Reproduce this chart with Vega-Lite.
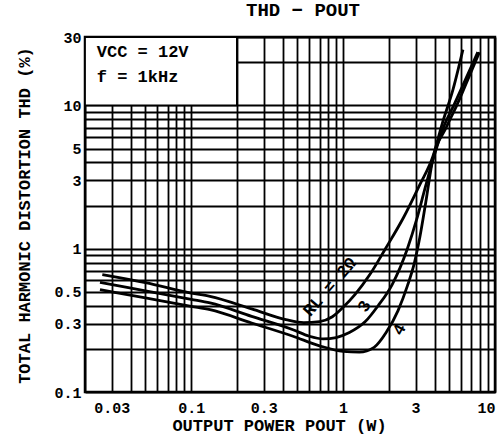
{
  "$schema": "https://vega.github.io/schema/vega-lite/v6.json",
  "width": 410,
  "height": 355,
  "autosize": "none",
  "padding": {"left": 85, "top": 37, "right": 7, "bottom": 48},
  "background": "white",
  "config": {
    "font": "Liberation Mono",
    "view": {"stroke": "black", "strokeWidth": 2.5},
    "axis": {
      "grid": true,
      "gridColor": "black",
      "gridOpacity": 1,
      "gridWidth": 1.8,
      "domain": false,
      "ticks": false,
      "labelFont": "Liberation Mono",
      "labelFontWeight": "bold",
      "labelFontSize": 15,
      "labelColor": "black",
      "labelOverlap": false,
      "titleFont": "Liberation Mono",
      "titleFontWeight": "bold",
      "titleFontSize": 17,
      "titleColor": "black"
    }
  },
  "title": {
    "text": "THD − POUT",
    "font": "Liberation Mono",
    "fontSize": 19,
    "fontWeight": "bold",
    "color": "black",
    "anchor": "middle",
    "dx": 13,
    "offset": 10
  },
  "datasets": {
    "curves": [
      {"curve": "2", "x": 0.026, "y": 0.66},
      {"curve": "2", "x": 0.05, "y": 0.58},
      {"curve": "2", "x": 0.1, "y": 0.49},
      {"curve": "2", "x": 0.133, "y": 0.465},
      {"curve": "2", "x": 0.25, "y": 0.38},
      {"curve": "2", "x": 0.42, "y": 0.32},
      {"curve": "2", "x": 0.55, "y": 0.305},
      {"curve": "2", "x": 0.7, "y": 0.31},
      {"curve": "2", "x": 0.85, "y": 0.335},
      {"curve": "2", "x": 1.0, "y": 0.39},
      {"curve": "2", "x": 1.2, "y": 0.48},
      {"curve": "2", "x": 1.5, "y": 0.66},
      {"curve": "2", "x": 1.9, "y": 1.0},
      {"curve": "2", "x": 2.5, "y": 1.65},
      {"curve": "2", "x": 3.2, "y": 2.8},
      {"curve": "2", "x": 3.9, "y": 4.4},
      {"curve": "2", "x": 4.5, "y": 7.5},
      {"curve": "2", "x": 5.3, "y": 13},
      {"curve": "2", "x": 6.15, "y": 24.5},
      {"curve": "3", "x": 0.0251, "y": 0.582},
      {"curve": "3", "x": 0.05, "y": 0.508},
      {"curve": "3", "x": 0.1, "y": 0.443},
      {"curve": "3", "x": 0.133, "y": 0.418},
      {"curve": "3", "x": 0.25, "y": 0.337},
      {"curve": "3", "x": 0.468, "y": 0.272},
      {"curve": "3", "x": 0.6, "y": 0.245},
      {"curve": "3", "x": 0.74, "y": 0.235},
      {"curve": "3", "x": 0.9, "y": 0.24},
      {"curve": "3", "x": 1.1, "y": 0.26},
      {"curve": "3", "x": 1.4, "y": 0.31},
      {"curve": "3", "x": 1.7, "y": 0.4},
      {"curve": "3", "x": 2.1, "y": 0.56},
      {"curve": "3", "x": 2.65, "y": 1.0},
      {"curve": "3", "x": 3.05, "y": 1.6},
      {"curve": "3", "x": 3.45, "y": 2.6},
      {"curve": "3", "x": 3.86, "y": 4.0},
      {"curve": "3", "x": 4.6, "y": 7.1},
      {"curve": "3", "x": 5.4, "y": 10.2},
      {"curve": "3", "x": 6.4, "y": 15.2},
      {"curve": "3", "x": 7.7, "y": 23.5},
      {"curve": "4", "x": 0.0251, "y": 0.518},
      {"curve": "4", "x": 0.05, "y": 0.453},
      {"curve": "4", "x": 0.1, "y": 0.396},
      {"curve": "4", "x": 0.133, "y": 0.375},
      {"curve": "4", "x": 0.25, "y": 0.303},
      {"curve": "4", "x": 0.468, "y": 0.245},
      {"curve": "4", "x": 0.7, "y": 0.21},
      {"curve": "4", "x": 1.0, "y": 0.192},
      {"curve": "4", "x": 1.28, "y": 0.19},
      {"curve": "4", "x": 1.6, "y": 0.205},
      {"curve": "4", "x": 1.92, "y": 0.26},
      {"curve": "4", "x": 2.3, "y": 0.37},
      {"curve": "4", "x": 2.65, "y": 0.55},
      {"curve": "4", "x": 2.95, "y": 0.8},
      {"curve": "4", "x": 3.2, "y": 1.2},
      {"curve": "4", "x": 3.5, "y": 2.1},
      {"curve": "4", "x": 3.86, "y": 4.0},
      {"curve": "4", "x": 4.8, "y": 7.1},
      {"curve": "4", "x": 5.6, "y": 10},
      {"curve": "4", "x": 6.6, "y": 15},
      {"curve": "4", "x": 7.9, "y": 23.5}
    ]
  },
  "layer": [
    {
      "data": {"values": [{"x": 0.02, "x2": 0.2, "y": 10, "y2": 30}]},
      "mark": {"type": "rect", "fill": "white", "stroke": "black", "strokeWidth": 1.8},
      "encoding": {
        "x": {
          "field": "x", "type": "quantitative",
          "scale": {"type": "log", "domain": [0.02, 10], "nice": false},
          "axis": {
            "values": [0.02,0.03,0.04,0.05,0.06,0.07,0.08,0.09,0.1,0.2,0.3,0.4,0.5,0.6,0.7,0.8,0.9,1,2,3,4,5,6,7,8,9,10],
            "format": "~g",
            "labelExpr": "test(/^(0\\.03|0\\.1|0\\.3|1|3|10)$/, datum.label) ? datum.label : ''",
            "labelPadding": 8,
            "title": "OUTPUT POWER   POUT   (W)",
            "titleX": 194,
            "titleY": 38,
            "titleBaseline": "alphabetic"
          }
        },
        "x2": {"field": "x2"},
        "y": {
          "field": "y", "type": "quantitative",
          "scale": {"type": "log", "domain": [0.1, 30], "nice": false},
          "axis": {
            "values": [0.1,0.2,0.3,0.4,0.5,0.6,0.7,0.8,0.9,1,2,3,4,5,6,7,8,9,10,20,30],
            "format": "~g",
            "labelExpr": "test(/^(0\\.1|0\\.3|0\\.5|1|3|5|10|30)$/, datum.label) ? datum.label : ''",
            "labelPadding": 4,
            "title": "TOTAL HARMONIC DISTORTION   THD (%)",
            "titleX": -56,
            "titleY": 178,
            "titleAngle": -90,
            "titleBaseline": "alphabetic"
          }
        },
        "y2": {"field": "y2"}
      }
    },
    {
      "data": {"name": "curves"},
      "mark": {"type": "line", "color": "black", "strokeWidth": 2.8, "interpolate": "monotone"},
      "encoding": {
        "x": {"field": "x", "type": "quantitative"},
        "y": {"field": "y", "type": "quantitative"},
        "detail": {"field": "curve"}
      }
    },
    {
      "data": {"values": [{"x": 0.82, "y": 0.54, "t": "RL = 2Ω"}]},
      "mark": {"type": "text", "angle": -49, "fontSize": 17, "fontWeight": "bold", "color": "black"},
      "encoding": {
        "x": {"field": "x", "type": "quantitative"},
        "y": {"field": "y", "type": "quantitative"},
        "text": {"field": "t"}
      }
    },
    {
      "data": {"values": [{"x": 1.385, "y": 0.396, "t": "3"}, {"x": 2.35, "y": 0.272, "t": "4"}]},
      "mark": {"type": "text", "angle": -62, "fontSize": 17, "fontWeight": "bold", "color": "black"},
      "encoding": {
        "x": {"field": "x", "type": "quantitative"},
        "y": {"field": "y", "type": "quantitative"},
        "text": {"field": "t"}
      }
    },
    {
      "data": {"values": [{"x": 0.0239, "y": 23.7, "t": "VCC = 12V"}, {"x": 0.0239, "y": 15.8, "t": "f = 1kHz"}]},
      "mark": {"type": "text", "align": "left", "baseline": "middle", "fontSize": 17, "fontWeight": "bold", "color": "black"},
      "encoding": {
        "x": {"field": "x", "type": "quantitative"},
        "y": {"field": "y", "type": "quantitative"},
        "text": {"field": "t"}
      }
    }
  ]
}
